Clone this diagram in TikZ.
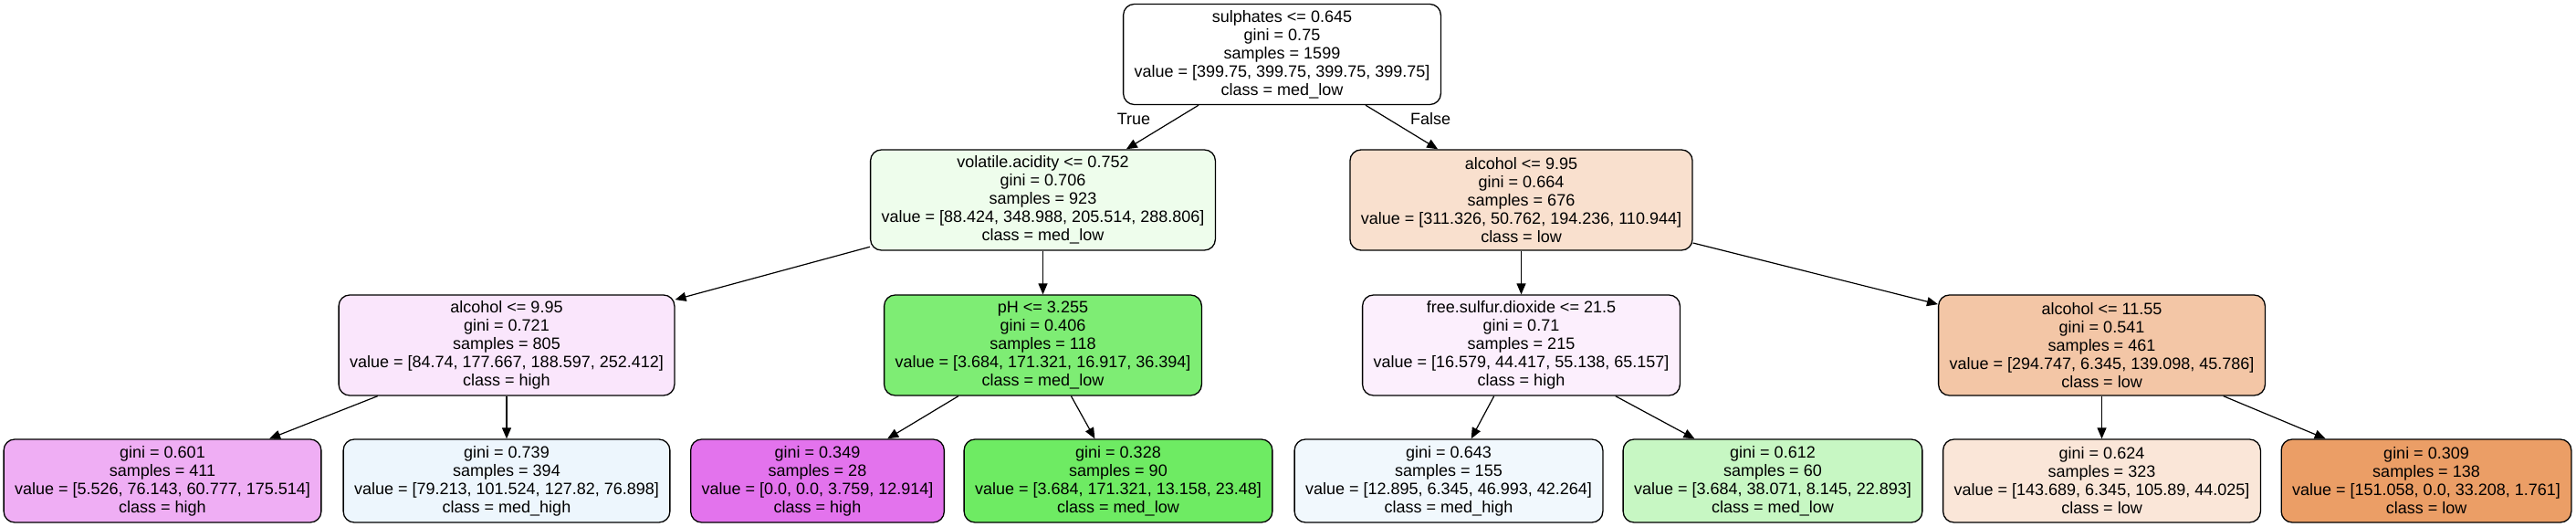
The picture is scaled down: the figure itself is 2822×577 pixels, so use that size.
\documentclass[tikz,border=0pt]{standalone}
\usepackage{fontspec}
\setmainfont{Liberation Sans}
\usetikzlibrary{arrows.meta}
\definecolor{cvol}{HTML}{EEFDEC}
\definecolor{calcR}{HTML}{F9E0CE}
\definecolor{calcL}{HTML}{FAE6FC}
\definecolor{cph}{HTML}{7EED74}
\definecolor{cfsd}{HTML}{FCEFFD}
\definecolor{calcB}{HTML}{F3C6A6}
\definecolor{cla}{HTML}{EFAEF4}
\definecolor{clb}{HTML}{EDF6FD}
\definecolor{clc}{HTML}{E373ED}
\definecolor{cld}{HTML}{6EEB63}
\definecolor{cle}{HTML}{F1F8FD}
\definecolor{clf}{HTML}{C7F7C3}
\definecolor{clg}{HTML}{FAE6D8}
\definecolor{clh}{HTML}{EB9E66}
\tikzset{
  treebox/.style={draw=black, line width=0.65pt, rounded corners=6pt, align=center,
    inner xsep=6pt, inner ysep=0pt, font=\fontsize{9}{10}\selectfont, minimum height=55pt},
  leafbox/.style={treebox, minimum height=45.5pt},
  treeedge/.style={draw=black, line width=0.6pt, -{Triangle[length=6pt,width=5pt]}},
  elabel/.style={font=\fontsize{9}{10}\selectfont, inner sep=0pt}
}
\begin{document}
\begin{tikzpicture}[x=0.5pt,y=-0.5pt]
\path[use as bounding box] (0,0) rectangle (2822,577);
% level 0
\node[treebox, fill=white] (n0) at (1404.5,59.5) {sulphates <= 0.645\\gini = 0.75\\samples = 1599\\value = [399.75, 399.75, 399.75, 399.75]\\class = med\_low};
% level 1
\node[treebox, fill=cvol] (n1) at (1142.5,219) {volatile.acidity <= 0.752\\gini = 0.706\\samples = 923\\value = [88.424, 348.988, 205.514, 288.806]\\class = med\_low};
\node[treebox, fill=calcR] (n8) at (1666.5,219) {alcohol <= 9.95\\gini = 0.664\\samples = 676\\value = [311.326, 50.762, 194.236, 110.944]\\class = low};
% level 2
\node[treebox, fill=calcL] (n2) at (555,378) {alcohol <= 9.95\\gini = 0.721\\samples = 805\\value = [84.74, 177.667, 188.597, 252.412]\\class = high};
\node[treebox, fill=cph] (n5) at (1142.5,378) {pH <= 3.255\\gini = 0.406\\samples = 118\\value = [3.684, 171.321, 16.917, 36.394]\\class = med\_low};
\node[treebox, fill=cfsd] (n9) at (1666.5,378) {free.sulfur.dioxide <= 21.5\\gini = 0.71\\samples = 215\\value = [16.579, 44.417, 55.138, 65.157]\\class = high};
\node[treebox, fill=calcB] (n12) at (2302.5,378) {alcohol <= 11.55\\gini = 0.541\\samples = 461\\value = [294.747, 6.345, 139.098, 45.786]\\class = low};
% leaves
\node[leafbox, fill=cla] (n3) at (178,526.5) {gini = 0.601\\samples = 411\\value = [5.526, 76.143, 60.777, 175.514]\\class = high};
\node[leafbox, fill=clb] (n4) at (555,526.5) {gini = 0.739\\samples = 394\\value = [79.213, 101.524, 127.82, 76.898]\\class = med\_high};
\node[leafbox, fill=clc] (n6) at (895.5,526.5) {gini = 0.349\\samples = 28\\value = [0.0, 0.0, 3.759, 12.914]\\class = high};
\node[leafbox, fill=cld] (n7) at (1225,526.5) {gini = 0.328\\samples = 90\\value = [3.684, 171.321, 13.158, 23.48]\\class = med\_low};
\node[leafbox, fill=cle] (n10) at (1587,526.5) {gini = 0.643\\samples = 155\\value = [12.895, 6.345, 46.993, 42.264]\\class = med\_high};
\node[leafbox, fill=clf] (n11) at (1942,526.5) {gini = 0.612\\samples = 60\\value = [3.684, 38.071, 8.145, 22.893]\\class = med\_low};
\node[leafbox, fill=clg] (n13) at (2302.5,526.5) {gini = 0.624\\samples = 323\\value = [143.689, 6.345, 105.89, 44.025]\\class = low};
\node[leafbox, fill=clh] (n14) at (2658,526.5) {gini = 0.309\\samples = 138\\value = [151.058, 0.0, 33.208, 1.761]\\class = low};
% edges
\draw[treeedge] (n0) -- (n1);
\draw[treeedge] (n0) -- (n8);
\draw[treeedge] (n1) -- (n2);
\draw[treeedge] (n1) -- (n5);
\draw[treeedge] (n2) -- (n3);
\draw[treeedge] (n2) -- (n4);
\draw[treeedge] (n5) -- (n6);
\draw[treeedge] (n5) -- (n7);
\draw[treeedge] (n8) -- (n9);
\draw[treeedge] (n8) -- (n12);
\draw[treeedge] (n9) -- (n10);
\draw[treeedge] (n9) -- (n11);
\draw[treeedge] (n12) -- (n13);
\draw[treeedge] (n12) -- (n14);
% edge labels
\node[elabel] (lt) at (1242,130) {True};
\node[elabel] (lf) at (1567,130) {False};
\end{tikzpicture}
\end{document}
